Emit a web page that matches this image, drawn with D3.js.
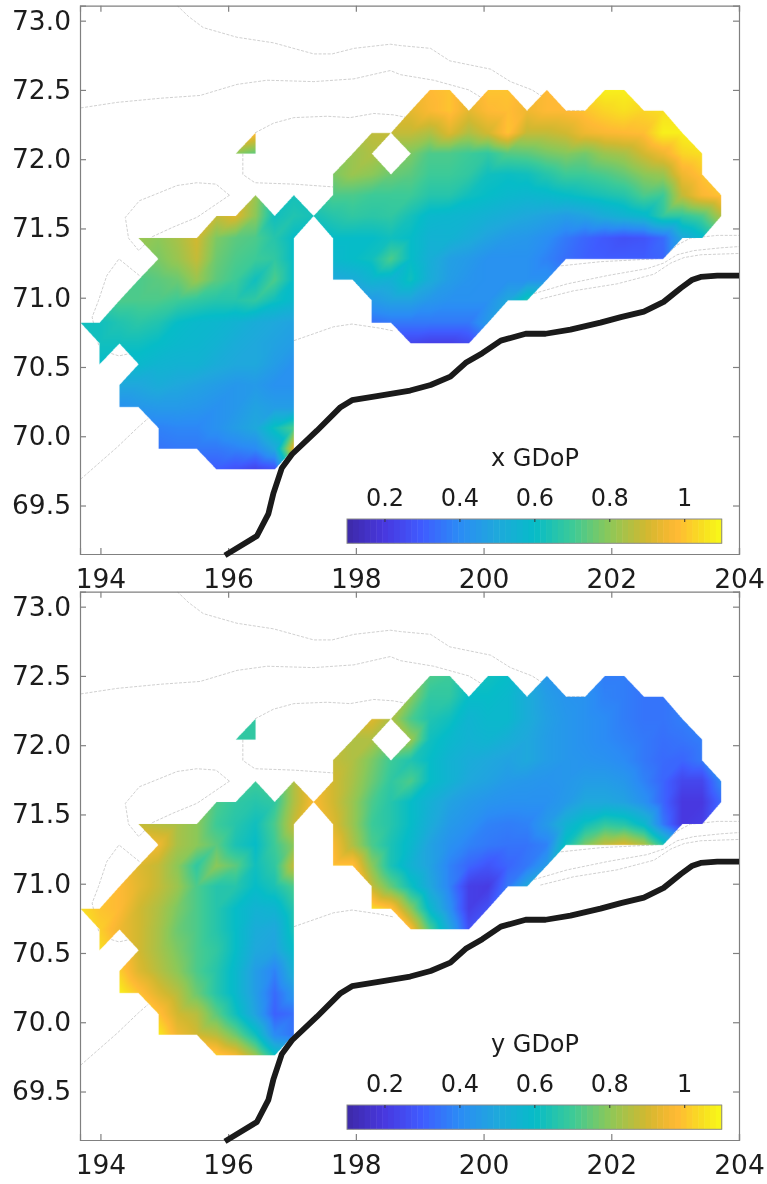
<!DOCTYPE html>
<html>
<head>
<meta charset="utf-8">
<script src="https://cdn.jsdelivr.net/npm/d3@7"></script>
<style>
  html, body { margin: 0; padding: 0; background: #fff; }
  svg { display: block; filter: blur(0.5px); }
  text { font-family: "DejaVu Sans", sans-serif; fill: #1c1c1c; }
</style>
</head>
<body>
<svg id="chart" width="767" height="1184"></svg>
<script>
var xTicks = [194, 196, 198, 200, 202, 204];
var yTicks = [69.5, 70, 70.5, 71, 71.5, 72, 72.5, 73];
var barTicks = [0.2, 0.4, 0.6, 0.8, 1];

// nodes of the measurement grid
var gridLons = [193.69, 193.99, 194.30, 194.60, 194.91, 195.21, 195.51, 195.82, 196.12, 196.43, 196.73, 197.03,
    197.34, 197.64, 197.95, 198.25, 198.55, 198.86, 199.16, 199.47, 199.77, 200.07, 200.38, 200.68,
    200.99, 201.29, 201.59, 201.90, 202.20, 202.51, 202.81, 203.11, 203.42, 203.72];
var gridLats = [72.50, 72.35, 72.19, 72.04, 71.89, 71.74, 71.59, 71.43, 71.28, 71.13, 70.98, 70.82, 70.67,
    70.52, 70.37, 70.21, 70.06, 69.91, 69.76];

// one object per latitude row, keyed by longitude index; missing keys are holes in the mesh
var xGdop = [
    {18:.98,19:1.0,21:1.0,22:1.0,24:.98,27:1.08,28:1.08},
    {17:.93,18:.97,19:1.0,20:.93,21:.98,22:.99,23:.95,24:.98,25:.98,26:1.0,27:1.03,28:1.05,29:1.03,30:1.05},
    {9:.98,15:.87,16:.88,17:.88,18:.85,19:.92,20:.85,21:.9,22:1.0,23:.88,24:.88,25:.9,26:.95,27:.97,28:.98,29:.99,30:1.08,31:1.08},
    {8:.8,9:.74,14:.82,15:.85,17:.78,18:.72,19:.72,20:.7,21:.68,22:.73,23:.74,24:.77,25:.79,26:.77,27:.82,28:.84,29:.9,30:.95,31:1.03,32:1.05},
    {13:.78,14:.82,15:.8,16:.76,17:.74,18:.7,19:.7,20:.68,21:.62,22:.61,23:.62,24:.66,25:.7,26:.7,27:.72,28:.75,29:.8,30:.82,31:.95,32:1.0},
    {9:.82,11:.63,13:.72,14:.72,15:.7,16:.7,17:.7,18:.66,19:.66,20:.62,21:.6,22:.58,23:.57,24:.58,25:.6,26:.62,27:.64,28:.66,29:.72,30:.7,31:.88,32:.97,33:1.0},
    {7:.88,8:.92,9:.8,10:.62,11:.65,12:.63,13:.66,14:.68,15:.67,16:.68,17:.63,18:.58,19:.57,20:.56,21:.54,22:.52,23:.5,24:.48,25:.46,26:.48,27:.52,28:.55,29:.58,30:.68,31:.68,32:.72,33:.85},
    {3:.82,4:.8,5:.84,6:.9,7:.78,8:.74,9:.72,10:.66,11:.6,13:.6,14:.6,15:.6,16:.62,17:.6,18:.55,19:.55,20:.52,21:.48,22:.45,23:.44,24:.41,25:.36,26:.32,27:.29,28:.27,29:.28,30:.33,31:.5,32:.58},
    {4:.78,5:.82,6:.88,7:.76,8:.72,9:.7,10:.68,11:.6,13:.58,14:.6,15:.62,16:.72,17:.6,18:.53,19:.47,20:.45,21:.42,22:.42,23:.42,24:.38,25:.34,26:.31,27:.3,28:.3,29:.3,30:.32},
    {3:.72,4:.74,5:.76,6:.82,7:.74,8:.7,9:.62,10:.72,11:.6,13:.5,14:.52,15:.56,16:.55,17:.62,18:.52,19:.46,20:.43,21:.42,22:.42,23:.42,24:.42},
    {2:.72,3:.72,4:.72,5:.7,6:.68,7:.66,8:.66,9:.68,10:.62,11:.58,15:.45,16:.48,17:.48,18:.44,19:.42,20:.42,21:.42,22:.5,23:.65},
    {0:.62,1:.62,2:.65,3:.67,4:.65,5:.6,6:.58,7:.57,8:.55,9:.52,10:.5,11:.48,15:.34,16:.36,17:.36,18:.36,19:.36,20:.36,21:.45},
    {1:.62,2:.62,3:.62,4:.6,5:.58,6:.57,7:.55,8:.52,9:.5,10:.48,11:.46,17:.24,18:.22,19:.22,20:.25},
    {1:.6,3:.58,4:.56,5:.55,6:.55,7:.52,8:.5,9:.5,10:.46,11:.42},
    {2:.5,3:.5,4:.52,5:.5,6:.48,7:.46,8:.44,9:.45,10:.42,11:.42},
    {2:.42,3:.44,4:.45,5:.45,6:.44,7:.42,8:.44,9:.48,10:.46,11:.46},
    {4:.38,5:.39,6:.39,7:.42,8:.46,9:.5,10:.62,11:.72},
    {4:.35,5:.36,6:.36,7:.36,8:.38,9:.4,10:.5,11:.95},
    {7:.3,8:.27,9:.23,10:.27}
];

var yGdop = [
    {18:.72,19:.7,21:.62,22:.6,24:.44,27:.37,28:.37},
    {17:.8,18:.68,19:.68,20:.6,21:.6,22:.58,23:.52,24:.46,25:.43,26:.42,27:.38,28:.37,29:.35,30:.35},
    {9:.68,15:.92,16:.85,17:.72,18:.65,19:.62,20:.56,21:.58,22:.58,23:.52,24:.47,25:.44,26:.42,27:.4,28:.37,29:.35,30:.35,31:.37},
    {8:.68,9:.68,14:.85,15:.85,17:.82,18:.62,19:.58,20:.55,21:.56,22:.53,23:.5,24:.46,25:.44,26:.42,27:.4,28:.38,29:.36,30:.34,31:.35,32:.37},
    {13:.88,14:.85,15:.78,16:.7,17:.65,18:.6,19:.55,20:.52,21:.5,22:.48,23:.5,24:.46,25:.44,26:.43,27:.42,28:.4,29:.36,30:.33,31:.32,32:.36},
    {9:.7,11:.85,13:.9,14:.84,15:.76,16:.68,17:.72,18:.6,19:.55,20:.5,21:.48,22:.45,23:.44,24:.43,25:.44,26:.46,27:.46,28:.44,29:.38,30:.32,31:.24,32:.24,33:.4},
    {7:.72,8:.68,9:.66,10:.68,11:.85,12:.97,13:.9,14:.82,15:.72,16:.66,17:.6,18:.54,19:.48,20:.45,21:.43,22:.42,23:.42,24:.42,25:.45,26:.5,27:.5,28:.48,29:.42,30:.32,31:.2,32:.2,33:.33},
    {3:.88,4:.86,5:.84,6:.8,7:.7,8:.66,9:.62,10:.72,11:.88,13:.92,14:.82,15:.7,16:.66,17:.6,18:.52,19:.45,20:.42,21:.38,22:.37,23:.38,24:.45,25:.55,26:.62,27:.68,28:.66,29:.58,30:.36,31:.2,32:.22},
    {4:.95,5:.84,6:.8,7:.74,8:.64,9:.6,10:.7,11:.8,13:.97,14:.85,15:.72,16:.64,17:.58,18:.48,19:.42,20:.38,21:.36,22:.35,23:.35,24:.38,25:.62,26:.78,27:.88,28:.92,29:.85,30:.65},
    {3:.92,4:.88,5:.8,6:.68,7:.8,8:.74,9:.62,10:.68,11:.88,13:1.0,14:1.0,15:.8,16:.64,17:.55,18:.48,19:.38,20:.32,21:.28,22:.32,23:.36,24:.45},
    {2:.98,3:.93,4:.88,5:.82,6:.72,7:.66,8:.66,9:.6,10:.64,11:.72,15:.88,16:.75,17:.62,18:.5,19:.38,20:.22,21:.21,22:.36,23:.5},
    {0:1.05,1:1.0,2:.98,3:.9,4:.85,5:.78,6:.72,7:.66,8:.6,9:.55,10:.56,11:.66,15:1.05,16:1.0,17:.8,18:.58,19:.42,20:.22,21:.27},
    {1:1.02,2:.95,3:.9,4:.84,5:.76,6:.72,7:.66,8:.6,9:.52,10:.5,11:.64,17:.98,18:.72,19:.5,20:.27},
    {1:1.05,3:.9,4:.84,5:.78,6:.72,7:.68,8:.6,9:.5,10:.48,11:.6},
    {2:1.02,3:.92,4:.86,5:.8,6:.72,7:.66,8:.58,9:.46,10:.38,11:.54},
    {2:1.08,3:1.0,4:.92,5:.86,6:.76,7:.66,8:.58,9:.46,10:.33,11:.44},
    {4:1.0,5:.9,6:.86,7:.74,8:.62,9:.48,10:.31,11:.34},
    {4:1.07,5:.95,6:.9,7:.86,8:.76,9:.62,10:.4,11:.35},
    {7:1.02,8:.96,9:.82,10:.62}
];

// coastline and bathymetry lines, [lon, lat]
var coast = [[195.95,69.14],[196.45,69.28],[196.63,69.44],[196.71,69.59],[196.84,69.77],[197.00,69.87],[197.39,70.04],
    [197.76,70.21],[197.94,70.26],[198.33,70.29],[198.85,70.33],[199.17,70.37],[199.48,70.43],[199.72,70.53],
    [199.98,70.60],[200.27,70.69],[200.66,70.74],[200.97,70.74],[201.36,70.77],[201.83,70.82],[202.15,70.86],
    [202.51,70.90],[202.82,70.97],[203.09,71.07],[203.27,71.13],[203.40,71.15],[203.66,71.16],[204.00,71.16]];

var isobaths = [
    [[195.20,73.11],[195.38,73.03],[195.61,72.95],[196.14,72.88],[196.71,72.84],[197.34,72.76],[197.63,72.76],[197.97,72.80],
     [198.54,72.83],[198.70,72.82],[199.17,72.80],[199.47,72.71],[200.11,72.65],[200.42,72.56],[200.76,72.50],[200.99,72.43],
     [201.29,72.35],[201.60,72.35]],
    [[193.69,72.37],[194.26,72.41],[194.94,72.44],[195.56,72.46],[196.14,72.54],[196.61,72.57],[197.34,72.56],[197.97,72.58],
     [198.54,72.64],[198.70,72.61],[199.22,72.57],[199.77,72.50],[199.98,72.44]],
    [[196.42,72.19],[196.71,72.26],[197.03,72.30],[197.55,72.31],[197.91,72.30],[198.28,72.33],[198.59,72.32],[198.81,72.30]],
    [[196.23,72.04],[196.23,71.89],[196.42,71.83],[197.03,71.82],[197.64,71.80]],
    [[196.02,71.74],[195.81,71.82],[195.51,71.83],[195.20,71.81],[194.88,71.75],[194.61,71.70],[194.39,71.58],[194.44,71.43],
     [194.60,71.34],[194.81,71.44],[195.14,71.51],[195.51,71.58],[196.02,71.74]],
    [[194.61,71.16],[194.29,71.28],[194.10,71.16],[193.97,70.98],[193.87,70.86],[193.97,70.66],[194.15,70.60],[194.29,70.58],[194.49,70.60]],
    [[193.69,69.69],[194.26,69.92],[194.60,70.07],[194.75,70.13]],
    [[197.03,70.69],[197.65,70.79],[197.94,70.81],[198.38,70.78],[198.59,70.76]],
    [[201.21,71.23],[201.83,71.26],[202.67,71.28],[202.82,71.29],[203.03,71.38],[203.24,71.43],[203.66,71.45],[204.02,71.45]],
    [[200.79,71.03],[201.31,71.10],[201.94,71.16],[202.56,71.21],[202.82,71.25],[203.03,71.31],[203.29,71.34],[203.71,71.36],[204.02,71.37]],
    [[200.89,70.99],[201.41,71.05],[202.09,71.10],[202.67,71.17],[202.93,71.25],[203.14,71.29],[203.40,71.31],[204.02,71.32]]
];

var colorStops = [0.1, 0.2, 0.3, 0.4, 0.5, 0.6, 0.7, 0.8, 0.9, 0.95, 0.98, 1.05, 1.1];
var colorValues = ["#3d2aa8", "#4838e0", "#3f5cff", "#2b8cf5", "#1fa8dc", "#06bcc8", "#3cca98", "#8cc858",
    "#d2b830", "#f0b830", "#ffb935", "#f8e020", "#f8fa18"];

var svg = d3.select("#chart"),
    width = +svg.attr("width");

var x = d3.scaleLinear().domain([193.68, 204]).range([80, 739]);
var y = d3.scaleLinear().domain([73.108, 69.15]).range([5.7, 554]);
var barX = d3.scaleLinear().domain([0.1, 1.1]).range([347, 721.7]);
var colorScale = d3.scaleLinear().domain(colorStops).range(colorValues).clamp(true);

var line = d3.line().x(function (d) { return x(d[0]); }).y(function (d) { return y(d[1]); });

// lookup table so the per pixel loop stays cheap
var lut = d3.range(1024).map(function (k) {
    return d3.rgb(colorScale(0.1 + k / 1023));
});

function fillTriangle(img, w, h, ss, a, b, c) {
    var x0 = Math.floor(Math.min(a[0], b[0], c[0]) * ss), x1 = Math.ceil(Math.max(a[0], b[0], c[0]) * ss);
    var y0 = Math.floor(Math.min(a[1], b[1], c[1]) * ss), y1 = Math.ceil(Math.max(a[1], b[1], c[1]) * ss);
    var det = (b[1] - c[1]) * (a[0] - c[0]) + (c[0] - b[0]) * (a[1] - c[1]);
    for (var py = y0; py <= y1; py++) {
        for (var px = x0; px <= x1; px++) {
            var fx = (px + 0.5) / ss, fy = (py + 0.5) / ss;
            var l1 = ((b[1] - c[1]) * (fx - c[0]) + (c[0] - b[0]) * (fy - c[1])) / det;
            var l2 = ((c[1] - a[1]) * (fx - c[0]) + (a[0] - c[0]) * (fy - c[1])) / det;
            var l3 = 1 - l1 - l2;
            if (l1 < 0 || l2 < 0 || l3 < 0) continue;
            var v = l1 * a[2] + l2 * b[2] + l3 * c[2];
            var k = Math.max(0, Math.min(1023, Math.round((v - 0.1) * 1023)));
            var o = (py * w + px) * 4, col = lut[k];
            img.data[o] = col.r; img.data[o + 1] = col.g; img.data[o + 2] = col.b; img.data[o + 3] = 255;
        }
    }
}

// mesh is rastered at 3x then scaled down, gives soft edges like the original
function meshImage(values) {
    var ss = 3, h = 590;
    var big = document.createElement("canvas");
    big.width = width * ss; big.height = h * ss;
    var ctx = big.getContext("2d");
    var img = ctx.createImageData(big.width, big.height);

    function node(i, j) {
        var v = values[j] ? values[j][i] : undefined;
        if (v === undefined) return null;
        return [x(gridLons[i]), y(gridLats[j]), v];
    }

    for (var j = 0; j < gridLats.length - 1; j++) {
        for (var i = 0; i < gridLons.length - 1; i++) {
            var cell = [node(i, j), node(i + 1, j), node(i + 1, j + 1), node(i, j + 1)];
            var ok = cell.filter(function (n) { return n; });
            if (ok.length === 3) {
                fillTriangle(img, big.width, big.height, ss, ok[0], ok[1], ok[2]);
            } else if (ok.length === 4) {
                fillTriangle(img, big.width, big.height, ss, cell[0], cell[1], cell[3]);
                fillTriangle(img, big.width, big.height, ss, cell[1], cell[2], cell[3]);
            }
        }
    }
    ctx.putImageData(img, 0, 0);

    var small = document.createElement("canvas");
    small.width = width; small.height = h;
    var sctx = small.getContext("2d");
    sctx.imageSmoothingQuality = "high";
    sctx.drawImage(big, 0, 0, width, h);
    return small.toDataURL();
}

function drawPanel(offsetY, values, label, id) {
    var g = svg.append("g").attr("transform", "translate(0," + offsetY + ")");

    g.append("clipPath").attr("id", "clip" + id)
        .append("rect")
        .attr("x", x.range()[0]).attr("y", y.range()[0])
        .attr("width", x.range()[1] - x.range()[0])
        .attr("height", y.range()[1] - y.range()[0]);

    var plot = g.append("g").attr("clip-path", "url(#clip" + id + ")");

    plot.selectAll(".isobath")
        .data(isobaths)
        .enter().append("path")
        .attr("class", "isobath")
        .attr("d", line)
        .attr("fill", "none")
        .attr("stroke", "#c4c4c4")
        .attr("stroke-width", 0.8)
        .attr("stroke-dasharray", "3,1.5");

    plot.append("image")
        .attr("x", 0).attr("y", 0)
        .attr("width", width).attr("height", 590)
        .attr("href", meshImage(values));

    // frame, ticks point inwards on all four sides
    var axes = [
        d3.axisBottom(x).tickValues(xTicks).tickSize(-6).tickPadding(15),
        d3.axisLeft(y).tickValues(yTicks).tickSize(-6).tickPadding(9),
        d3.axisTop(x).tickValues(xTicks).tickSize(-6).tickFormat(""),
        d3.axisRight(y).tickValues(yTicks).tickSize(-6).tickFormat("")
    ];
    var origins = [[0, y.range()[1]], [x.range()[0], 0], [0, y.range()[0]], [x.range()[1], 0]];
    axes.forEach(function (axis, k) {
        var a = g.append("g")
            .attr("transform", "translate(" + origins[k][0] + "," + origins[k][1] + ")")
            .call(axis);
        a.selectAll("path, line").attr("stroke", "#808080").attr("stroke-width", 1.2);
        a.selectAll("text").attr("font-size", 26.5).style("font-family", '"DejaVu Sans", sans-serif').attr("fill", "#1c1c1c");
    });

    g.append("path")
        .attr("d", line(coast))
        .attr("fill", "none")
        .attr("stroke", "#1a1a1a")
        .attr("stroke-width", 5.8)
        .attr("stroke-linejoin", "round");

    // colour bar
    var bar = g.append("g");
    var barTop = 519, barH = 24.3;
    var bands = d3.range(64).map(function (k) { return 0.1 + k / 64; });
    bar.selectAll("rect.band")
        .data(bands)
        .enter().append("rect")
        .attr("class", "band")
        .attr("x", function (d) { return barX(d); })
        .attr("y", barTop)
        .attr("width", barX(1 / 64) - barX(0) + 0.5)
        .attr("height", barH)
        .attr("fill", function (d) { return colorScale(d + 0.5 / 64); });
    bar.append("rect")
        .attr("x", barX.range()[0]).attr("y", barTop)
        .attr("width", barX.range()[1] - barX.range()[0]).attr("height", barH)
        .attr("fill", "none").attr("stroke", "#8a8a8a").attr("stroke-width", 1);

    var barAxis = bar.append("g")
        .attr("transform", "translate(0," + barTop + ")")
        .call(d3.axisTop(barX).tickValues(barTicks).tickSize(-3).tickPadding(13).tickFormat(function (d) { return d; }));
    barAxis.select(".domain").remove();
    barAxis.selectAll("line").attr("stroke", "#333");
    barAxis.selectAll("text").attr("font-size", 24).style("font-family", '"DejaVu Sans", sans-serif').attr("fill", "#1c1c1c");

    g.append("text")
        .attr("x", 535).attr("y", 465.5)
        .attr("text-anchor", "middle")
        .attr("font-size", 24)
        .text(label);
}

drawPanel(0, xGdop, "x GDoP", "a");
drawPanel(586, yGdop, "y GDoP", "b");
</script>
</body>
</html>
